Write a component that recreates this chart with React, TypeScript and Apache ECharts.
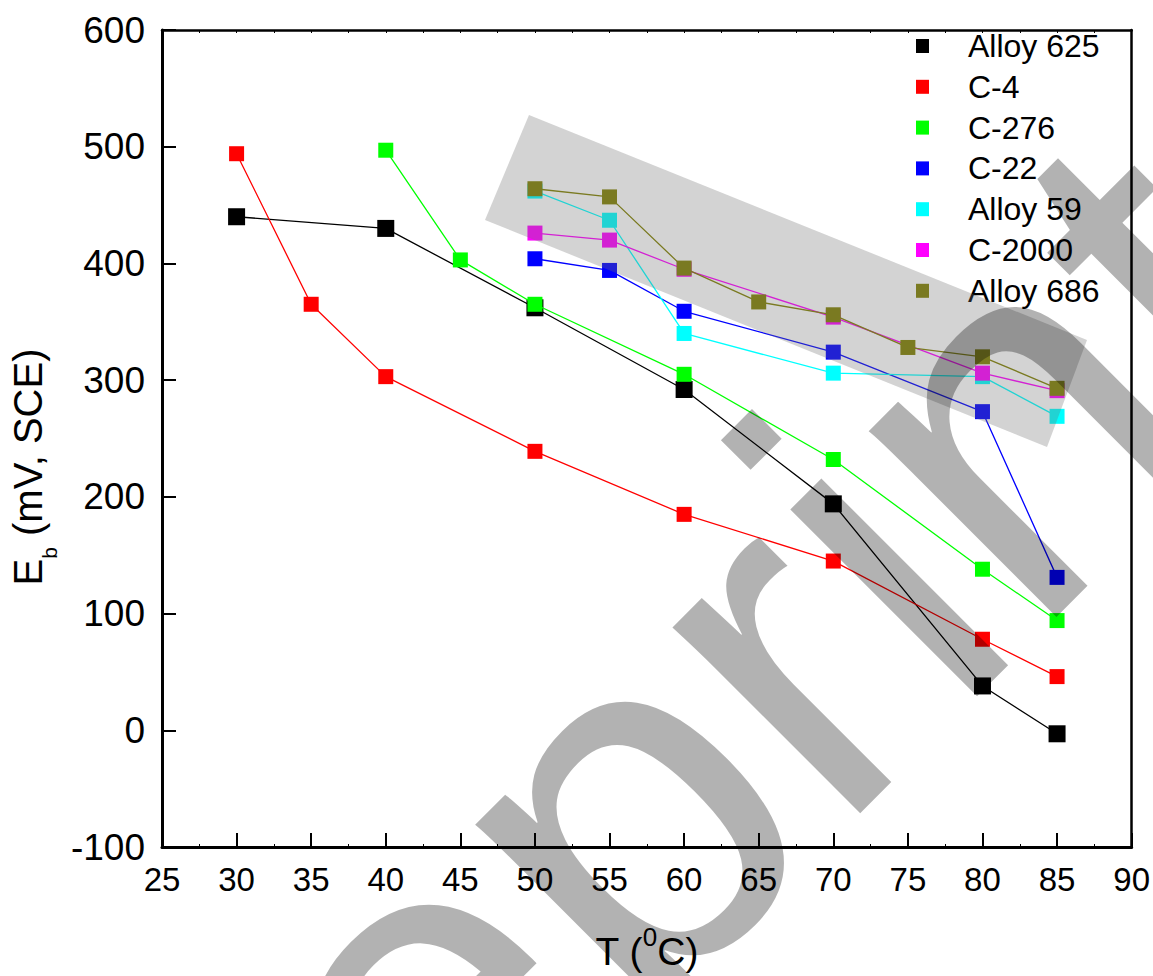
import React, { useEffect, useRef } from "react";
import * as echarts from "echarts";

const FONT = '"Liberation Sans", Arial, Helvetica, sans-serif';

// Temperature (°C) and breakdown potential Eb (mV, SCE) per alloy
const alloy625T = [30, 40, 50, 60, 70, 80, 85];
const alloy625Eb = [440, 430, 362, 292, 194, 38, -3];

const c4T = [30, 35, 40, 50, 60, 70, 80, 85];
const c4Eb = [494, 365, 303, 239, 185, 145, 78, 46];

const c276T = [40, 45, 50, 60, 70, 80, 85];
const c276Eb = [497, 403, 365, 305, 232, 138, 94];

const c22T = [50, 55, 60, 70, 80, 85];
const c22Eb = [404, 394, 359, 324, 273, 131];

const alloy59T = [50, 55, 60, 70, 80, 85];
const alloy59Eb = [462, 437, 340, 306, 303, 269];

const c2000T = [50, 55, 60, 70, 80, 85];
const c2000Eb = [426, 420, 395, 354, 306, 291];

const alloy686T = [50, 55, 60, 65, 70, 75, 80, 85];
const alloy686Eb = [464, 457, 396, 367, 356, 328, 320, 293];

const seriesNames = ["Alloy 625", "C-4", "C-276", "C-22", "Alloy 59", "C-2000", "Alloy 686"];
const seriesColors = ["#000000", "#ff0000", "#00ff00", "#0000ff", "#00ffff", "#ff00ff", "#808000"];
const seriesT = [alloy625T, c4T, c276T, c22T, alloy59T, c2000T, alloy686T];
const seriesEb = [alloy625Eb, c4Eb, c276Eb, c22Eb, alloy59Eb, c2000Eb, alloy686Eb];

const xTicks = { min: 25, max: 90, interval: 5 };
const yTicks = { min: -100, max: 600, interval: 100 };

export default function App() {
  const ref = useRef<HTMLDivElement | null>(null);

  useEffect(() => {
    document.body.style.margin = "0";
    if (!ref.current) return;
    const chart = echarts.init(ref.current, null, { renderer: "svg" });

    const series = seriesNames.map((name, i) => ({
      name,
      type: "line",
      data: seriesT[i].map((t, j) => [t, seriesEb[i][j]]),
      symbol: "rect",
      symbolSize: i === 0 ? 17 : 15,
      showSymbol: true,
      color: seriesColors[i],
      itemStyle: { color: seriesColors[i] },
      lineStyle: { color: seriesColors[i], width: 1.3 },
      emphasis: { disabled: true },
      z: 2 + i,
    }));

    const option: any = {
      animation: false,
      backgroundColor: "#ffffff",
      textStyle: { fontFamily: FONT },
      grid: { left: 162, right: 18, top: 30, bottom: 120 },
      xAxis: [
        {
          type: "value",
          position: "bottom",
          min: xTicks.min,
          max: xTicks.max,
          interval: xTicks.interval,
          axisLine: { show: true, onZero: false, lineStyle: { color: "#000", width: 3 } },
          axisTick: { show: true, inside: true, length: 14, lineStyle: { color: "#000", width: 2 } },
          minorTick: { show: true, splitNumber: 2, length: 3, lineStyle: { color: "#000", width: 1 } },
          splitLine: { show: false },
          axisLabel: { color: "#000", fontSize: 33, fontFamily: FONT, margin: 16 },
          name: "{a|T (}{s|0}{a|C)}",
          nameLocation: "middle",
          nameGap: 77,
          nameTextStyle: {
            rich: {
              a: { fontSize: 39, lineHeight: 47, fontFamily: FONT, color: "#000", verticalAlign: "bottom" },
              s: { fontSize: 26, lineHeight: 26, fontFamily: FONT, color: "#000", verticalAlign: "top" },
            },
          },
        },
        {
          type: "value",
          position: "top",
          min: xTicks.min,
          max: xTicks.max,
          interval: xTicks.interval,
          axisLine: { show: true, onZero: false, lineStyle: { color: "#000", width: 2.5 } },
          axisTick: { show: true, inside: true, length: 3, lineStyle: { color: "#000", width: 1 } },
          minorTick: { show: true, splitNumber: 2, length: 3, lineStyle: { color: "#000", width: 1 } },
          splitLine: { show: false },
          axisLabel: { show: false },
        },
      ],
      yAxis: [
        {
          type: "value",
          position: "left",
          min: yTicks.min,
          max: yTicks.max,
          interval: yTicks.interval,
          axisLine: { show: true, onZero: false, lineStyle: { color: "#000", width: 3 } },
          axisTick: { show: true, inside: true, length: 14, lineStyle: { color: "#000", width: 2 } },
          splitLine: { show: false },
          axisLabel: { color: "#000", fontSize: 37, fontFamily: FONT, margin: 17 },
          name: "{a|E}{b|b}{a| (mV, SCE)}",
          nameLocation: "middle",
          nameGap: 101,
          nameTextStyle: {
            padding: [0, 57, 0, 0],
            rich: {
              a: { fontSize: 40, lineHeight: 40, fontFamily: FONT, color: "#000", verticalAlign: "top" },
              b: { fontSize: 21, lineHeight: 52, fontFamily: FONT, color: "#000", verticalAlign: "bottom" },
            },
          },
        },
        {
          type: "value",
          position: "right",
          min: yTicks.min,
          max: yTicks.max,
          interval: yTicks.interval,
          axisLine: { show: true, onZero: false, lineStyle: { color: "#000", width: 2.5 } },
          axisTick: { show: false },
          splitLine: { show: false },
          axisLabel: { show: false },
        },
      ],
      legend: {
        data: seriesNames,
        orient: "vertical",
        left: 916,
        top: 30,
        padding: 0,
        itemWidth: 13,
        itemHeight: 14,
        itemGap: 8.8,
        icon: "rect",
        textStyle: { color: "#000", fontSize: 32, fontFamily: FONT, lineHeight: 32, padding: [0, 0, 0, 34] },
      },
      series,
      graphic: [
        {
          type: "polygon",
          z: 100,
          silent: true,
          shape: { points: [[529, 115], [1087, 340], [1047, 447], [485, 220]] },
          style: { fill: "rgba(110,110,110,0.3)" },
        },
        {
          type: "text",
          z: 101,
          silent: true,
          x: 5.5,
          y: 1422.5,
          rotation: Math.PI / 4,
          style: {
            text: "preprint",
            font: '500px "Liberation Sans", Arial, sans-serif',
            fill: "rgba(0,0,0,0.3)",
            align: "left",
            verticalAlign: "middle",
          },
        },
      ],
    };

    chart.setOption(option);
    return () => chart.dispose();
  }, []);

  return <div ref={ref} style={{ width: 1153, height: 976 }} />;
}
